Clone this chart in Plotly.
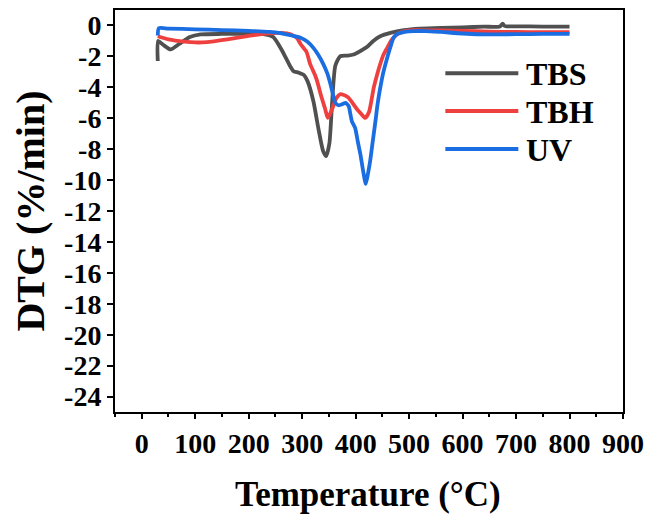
import plotly.graph_objects as go

# ---- data ----
tbs_x = [30, 30.5, 40, 54, 70, 90, 110, 150, 200, 230, 246, 262, 277, 284, 293, 303, 310, 321, 330, 339, 345, 351, 356, 362, 371, 384, 396, 409, 421, 433, 446, 465, 490, 520, 560, 600, 640, 670, 675, 678, 682, 700, 750, 800]
tbs_y = [-2.3, -1.0, -1.25, -1.55, -1.2, -0.75, -0.58, -0.55, -0.55, -0.57, -0.75, -1.6, -2.6, -2.96, -3.05, -3.2, -3.6, -4.9, -6.6, -8.1, -8.45, -7.6, -5.0, -2.6, -2.0, -1.95, -1.88, -1.65, -1.4, -1.0, -0.7, -0.48, -0.3, -0.2, -0.15, -0.12, -0.08, -0.06, 0.12, -0.02, -0.06, -0.06, -0.07, -0.08]

tbh_x = [30, 50, 80, 100, 122, 160, 200, 231, 262, 277, 290, 297, 308, 315, 324, 328, 335, 343, 348, 355, 364, 371, 378, 386, 396, 403, 410, 418, 425, 434, 440, 446, 452, 459, 467, 477, 490, 510, 550, 600, 650, 700, 750, 800]
tbh_y = [-0.7, -0.9, -1.05, -1.1, -1.08, -0.9, -0.68, -0.52, -0.48, -0.55, -0.8, -1.2, -1.7, -2.5, -3.2, -3.6, -4.5, -5.4, -5.98, -5.5, -4.7, -4.45, -4.5, -4.65, -5.1, -5.44, -5.7, -5.98, -5.6, -4.0, -3.2, -2.5, -1.9, -1.45, -0.95, -0.58, -0.38, -0.3, -0.32, -0.35, -0.4, -0.42, -0.43, -0.43]

uv_x = [30, 32, 50, 100, 150, 200, 240, 259, 280, 297, 310, 321, 330, 340, 347, 353, 358, 362, 368, 375, 381, 387, 390, 393, 399, 404, 409, 414, 419, 423, 427, 432, 437, 441, 446, 452, 459, 465, 471, 478, 484, 495, 508, 530, 560, 600, 650, 700, 750, 800]
uv_y = [-0.65, -0.18, -0.2, -0.25, -0.3, -0.35, -0.42, -0.5, -0.65, -0.8, -1.05, -1.45, -1.9, -2.53, -3.1, -3.8, -4.5, -5.0, -5.16, -5.1, -5.0, -5.22, -5.7, -6.2, -6.63, -7.5, -8.35, -9.4, -10.25, -9.6, -8.8, -7.5, -6.2, -5.1, -4.04, -3.0, -2.1, -1.4, -0.8, -0.55, -0.48, -0.4, -0.37, -0.36, -0.42, -0.52, -0.58, -0.56, -0.55, -0.55]

series_names = ["TBS", "TBH", "UV"]
series_colors = ["#505050", "#EF4040", "#1B6DE2"]

x_ticks = [0, 100, 200, 300, 400, 500, 600, 700, 800, 900]
y_ticks = list(range(-24, 1, 2))

# ---- layout geometry (pixels) ----
W, H = 649, 521
L, R, T, B = 114.6, 622.7, 10.0, 411.7
FONT = "Liberation Serif"


def px(xp):
    return (xp - L) / (R - L)


def py(yp):
    return (B - yp) / (B - T)


fig = go.Figure()
for xs, ys, name, col in zip([tbs_x, tbh_x, uv_x], [tbs_y, tbh_y, uv_y], series_names, series_colors):
    fig.add_trace(go.Scatter(x=xs, y=ys, mode="lines", name=name,
                             line=dict(color=col, width=3.8, shape="spline", smoothing=0.6),
                             showlegend=False))

# manual legend
leg_y = [73.3, 111.0, 149.0]
for name, col, yy in zip(series_names, series_colors, leg_y):
    fig.add_shape(type="line", xref="paper", yref="paper",
                  x0=px(445), x1=px(518), y0=py(yy), y1=py(yy),
                  line=dict(color=col, width=4))
    fig.add_annotation(xref="paper", yref="paper", x=px(524), y=py(yy + 1),
                       text="<b>" + name + "</b>", showarrow=False, xanchor="left", yanchor="middle",
                       font=dict(family=FONT, size=32, color="black"))

# axis titles
fig.add_annotation(xref="paper", yref="paper", x=px(368), y=py(494),
                   text="<b>Temperature (°C)</b>", showarrow=False, xanchor="center", yanchor="middle",
                   font=dict(family=FONT, size=35, color="black"))
fig.add_annotation(xref="paper", yref="paper", x=px(30), y=py(211),
                   text="<b>DTG (%/min)</b>", showarrow=False, textangle=-90,
                   xanchor="center", yanchor="middle",
                   font=dict(family=FONT, size=40, color="black"))

tick_font = dict(family=FONT, size=28, color="black", weight="bold")

fig.update_layout(
    width=W, height=H,
    margin=dict(l=L, r=W - R, t=T, b=H - B),
    paper_bgcolor="white", plot_bgcolor="white",
    font=dict(family=FONT, size=28, color="black", weight="bold"),
    showlegend=False,
)
fig.update_xaxes(range=[-50, 900], tickvals=x_ticks, ticktext=[str(v) for v in x_ticks],
                 showgrid=False, zeroline=False, showline=True, mirror=True, automargin=False,
                 linecolor="black", linewidth=2, ticks="outside", ticklen=5, tickwidth=2,
                 tickcolor="black", tickangle=0,
                 minor=dict(ticks="outside", ticklen=3, tickwidth=2, tickcolor="black", dtick=50, tick0=-50),
                 tickfont=tick_font)
fig.update_yaxes(range=[-25, 1], tickvals=y_ticks, ticktext=[str(v) for v in y_ticks],
                 showgrid=False, zeroline=False, showline=True, mirror=True, automargin=False,
                 linecolor="black", linewidth=2, ticks="outside", ticklen=6, tickwidth=2,
                 tickcolor="black",
                 tickfont=tick_font)

fig.write_html("out.html")
